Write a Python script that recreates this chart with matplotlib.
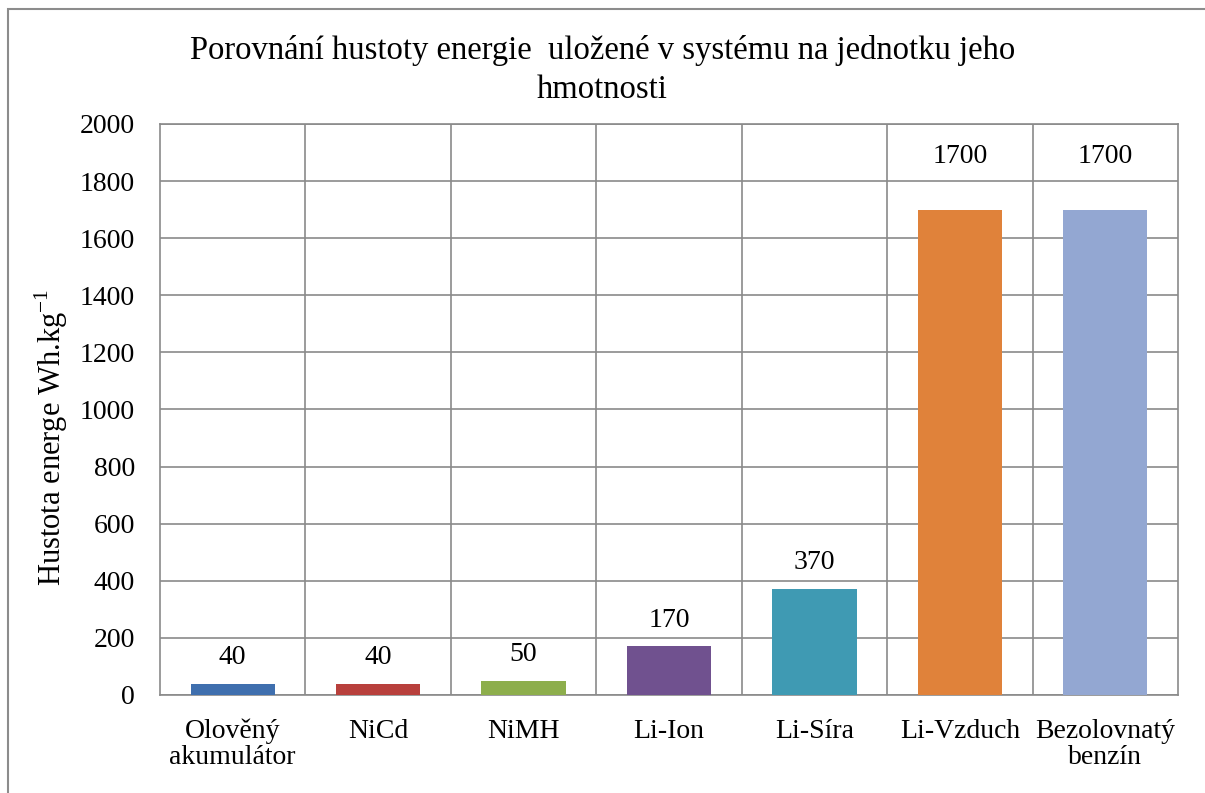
import matplotlib.pyplot as plt
from matplotlib.patches import Rectangle

# energy density per unit mass (Wh/kg)
categories = ["Olověný\nakumulátor", "NiCd", "NiMH", "Li-Ion", "Li-Síra", "Li-Vzduch", "Bezolovnatý\nbenzín"]
values = [40, 40, 50, 170, 370, 1700, 1700]
colors = ["#3F6FAE", "#B8403C", "#8DAE4C", "#70518F", "#3F9AB3", "#E0823A", "#93A7D2"]
label_offsets = [19, 19, 19, 19, 19, 38, 38]  # points above bar top
y_ticks = [0, 200, 400, 600, 800, 1000, 1200, 1400, 1600, 1800, 2000]

plt.rcParams['font.family'] = ['Liberation Serif', 'DejaVu Serif']

fig = plt.figure(figsize=(12.05, 7.93), dpi=100)
ax = fig.add_axes([160 / 1205, 1 - 695 / 793, (1178 - 160) / 1205, (695 - 124) / 793])

# outer frame
fig.patches.append(Rectangle((8 / 1205, -0.1), 1.2, 1 - 9 / 793 + 0.1,
                             transform=fig.transFigure, fill=False,
                             edgecolor="#8c8c8c", linewidth=1.5))

x = list(range(len(categories)))
ax.bar(x, values, width=0.58, color=colors, zorder=3)

for i in range(len(values)):
    ax.annotate(str(values[i]), (x[i], values[i]), xytext=(0, label_offsets[i]),
                textcoords="offset points", ha="center", va="center", fontsize=20)

ax.set_xlim(-0.5, len(categories) - 0.5)
ax.set_ylim(0, 2000)
ax.set_yticks(y_ticks)
ax.set_xticks([i + 0.5 for i in range(len(categories) - 1)], minor=True)
ax.set_xticks(x)
ax.set_xticklabels(categories, fontsize=20, linespacing=1.05)
ax.tick_params(axis="y", labelsize=20, length=0, pad=18)
ax.tick_params(axis="x", which="both", length=0, pad=17)
ax.grid(axis="y", color="#8a8a8a", linewidth=1.2, zorder=0)
ax.grid(axis="x", which="minor", color="#8a8a8a", linewidth=1.2, zorder=0)
for s in ax.spines.values():
    s.set_color("#8a8a8a")
    s.set_linewidth(1.2)

ax.set_ylabel("Hustota energe Wh.kg$^{\\mathregular{-1}}$", fontsize=22)
ax.yaxis.set_label_coords(-0.088, 0.451)

fig.text(0.5, 1 - 50 / 793, "Porovnání hustoty energie  uložené v systému na jednotku jeho",
         ha="center", va="center", fontsize=23.5)
fig.text(0.5, 1 - 90 / 793, "hmotnosti", ha="center", va="center", fontsize=23.5)

fig.savefig("out.png", dpi=100)
